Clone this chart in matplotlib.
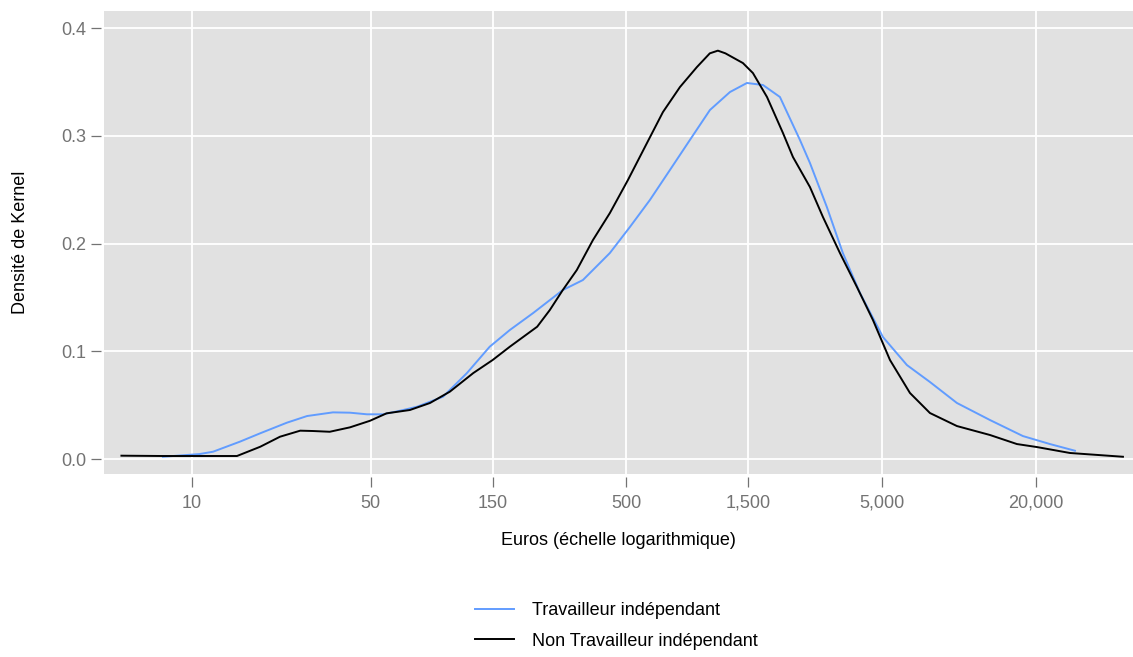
import numpy as np
import matplotlib
matplotlib.use("Agg")
import matplotlib.pyplot as plt
import matplotlib.ticker as mticker

# ── Kernel density estimates, read on a log-euro axis ──────────────────────
x_indep = [7.7, 10.7, 12.1, 15.4, 18.5, 23.5, 28.2, 35.6, 41.5, 48.4, 55.8,
           65.1, 75.9, 95.9, 119, 146, 175, 216, 282, 338, 394, 431, 516,
           618, 740, 886, 1061, 1271, 1481, 1711, 1993, 2387, 2612, 3041,
           3512, 4098, 5040, 6255, 7694, 9812, 13210, 17780, 22670, 28400]
y_indep = [0.0021, 0.0046, 0.0068, 0.0161, 0.0239, 0.0337, 0.0399, 0.0433,
           0.0430, 0.0415, 0.0415, 0.0448, 0.0485, 0.0578, 0.0798, 0.1042,
           0.1197, 0.1355, 0.1568, 0.1661, 0.1819, 0.1912, 0.2153, 0.2404,
           0.2682, 0.2961, 0.3239, 0.3406, 0.3490, 0.3471, 0.3360, 0.2961,
           0.2747, 0.2339, 0.1912, 0.1541, 0.1132, 0.0872, 0.0715, 0.0520,
           0.0362, 0.0213, 0.0139, 0.0077]

x_non = [5.3, 7.7, 10.7, 15.0, 18.5, 22.1, 26.5, 29.7, 34.6, 41.5, 49.7,
         57.7, 71.2, 85.3, 102, 126, 150, 175, 224, 251, 282, 320, 370, 431,
         507, 602, 695, 810, 944, 1060, 1140, 1220, 1428, 1563, 1774, 2048,
         2241, 2612, 2936, 3421, 3988, 4606, 5369, 6427, 7694, 9812, 13210,
         16840, 20170, 27150, 43750]
y_non = [0.0031, 0.0028, 0.0028, 0.0028, 0.0114, 0.0207, 0.0263, 0.0260,
         0.0253, 0.0294, 0.0355, 0.0424, 0.0455, 0.0520, 0.0625, 0.0798,
         0.0919, 0.1042, 0.1228, 0.1383, 0.1568, 0.1754, 0.2032, 0.2283,
         0.2589, 0.2933, 0.3220, 0.3452, 0.3638, 0.3765, 0.3790, 0.3765,
         0.3675, 0.3582, 0.3360, 0.3026, 0.2803, 0.2524, 0.2246, 0.1912,
         0.1596, 0.1290, 0.0919, 0.0613, 0.0427, 0.0306, 0.0223, 0.0139,
         0.0111, 0.0056, 0.0021]

x_ticks = [10, 50, 150, 500, 1500, 5000, 20000]
y_ticks = [0.0, 0.1, 0.2, 0.3, 0.4]

labels = ["Travailleur indépendant", "Non Travailleur indépendant"]
colors = ["#619CFF", "#000000"]

# ── Style ───────────────────────────────────────────────────────────────────
plt.rcParams.update({
    "font.family": ["Liberation Sans", "DejaVu Sans"],
    "font.size": 13,
})
TICK_GREY = "#737373"

fig = plt.figure(figsize=(11.33, 6.57), dpi=100)
ax = fig.add_axes([104 / 1133, 1 - 474 / 657, 1 - 104 / 1133, 463 / 657])
ax.set_facecolor("#E1E1E1")

l1, = ax.plot(x_indep, y_indep, color=colors[0], lw=1.4)
l2, = ax.plot(x_non, y_non, color=colors[1], lw=1.4)

ax.set_xscale("log")
ax.set_xlim(4.53, 47900)
ax.set_ylim(-0.0139, 0.4158)
ax.set_xticks(x_ticks)
ax.xaxis.set_minor_locator(mticker.NullLocator())
ax.xaxis.set_major_formatter(mticker.FuncFormatter(lambda v, _: f"{v:,.0f}"))
ax.set_yticks(y_ticks)
ax.yaxis.set_major_formatter(mticker.FuncFormatter(lambda v, _: f"{v:.1f}"))

ax.grid(True, color="white", lw=1.3)
ax.set_axisbelow(True)

for side in ["top", "right"]:
    ax.spines[side].set_visible(False)
for side in ["left", "bottom"]:
    ax.spines[side].set_position(("outward", 2))
    ax.spines[side].set_visible(False)

ax.tick_params(axis="both", colors=TICK_GREY, length=7, width=0.9,
               labelsize=13, labelcolor=TICK_GREY)
ax.tick_params(axis="x", pad=6)
ax.tick_params(axis="y", pad=4)

ax.set_xlabel("Euros (échelle logarithmique)", fontsize=13, color="black")
ax.xaxis.set_label_coords(0.5, -0.125)
ax.set_ylabel("Densité de Kernel", fontsize=13, color="black")
ax.yaxis.set_label_coords(-0.073, 0.5)

fig.legend([l1, l2], labels, loc="center", ncol=1, frameon=False,
           bbox_to_anchor=(616 / 1133, 1 - 626 / 657), fontsize=13,
           handlelength=2.2, handletextpad=0.95, labelspacing=0.75,
           borderpad=0, borderaxespad=0)

fig.savefig("out.png", dpi=100)
